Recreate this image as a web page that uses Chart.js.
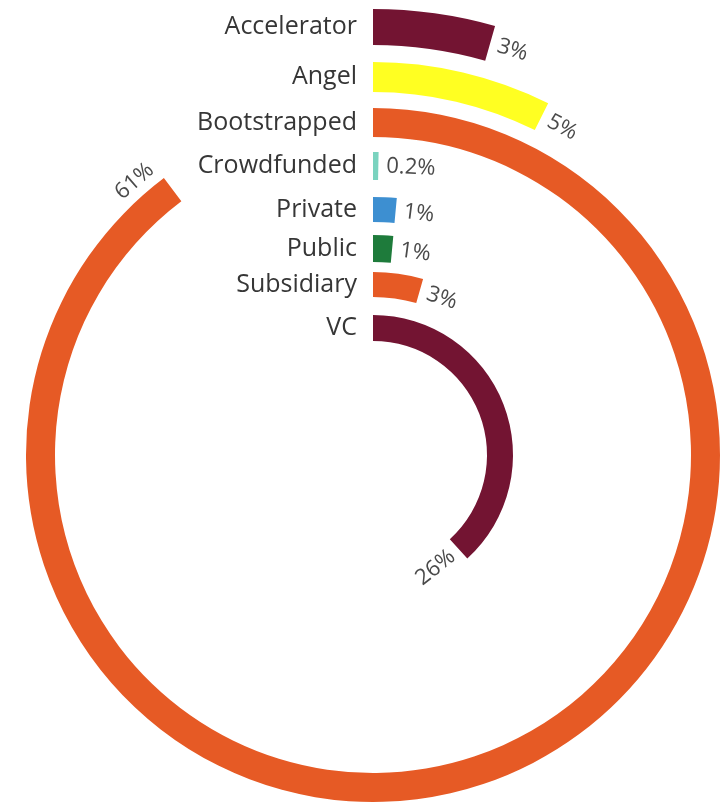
<!DOCTYPE html>
<html>
<head>
<meta charset="utf-8">
<script src="https://cdn.jsdelivr.net/npm/chart.js@4.4.1/dist/chart.umd.min.js"></script>
<style>
  html, body { margin: 0; padding: 0; background: #fff; overflow: hidden; }
  #wrap { width: 728px; height: 803px; position: relative; }
</style>
</head>
<body>
<div id="wrap"><canvas id="chart"></canvas></div>
<script>
const categories = ["Accelerator", "Angel", "Bootstrapped", "Crowdfunded", "Private", "Public", "Subsidiary", "VC"];
const shares = [3, 5, 61, 0.2, 1, 1, 3, 26];

// look
const colors = ["#731432", "#ffff22", "#e65a25", "#7ad3bf", "#3d8fd1", "#1e7b3b", "#e65a25", "#731432"];
const ringWidth = [36, 30, 29, 28, 25, 27, 25, 26];
const gapWidth = [17, 16, 15, 17, 13, 10, 18];
const fullCircle = 68; // share shown by one full turn of a ring

// one dataset per ring, thin empty datasets keep the rings apart
const datasets = [];
categories.forEach((name, i) => {
  datasets.push({
    label: name,
    ringIndex: i,
    data: [shares[i], fullCircle - shares[i]],
    backgroundColor: [colors[i], "rgba(0,0,0,0)"],
    weight: ringWidth[i],
    borderWidth: 0
  });
  if (i < gapWidth.length) {
    datasets.push({ label: "", data: [], weight: gapWidth[i], borderWidth: 0 });
  }
});

const ringLabels = {
  id: "ringLabels",
  afterDatasetsDraw(chart) {
    const ctx = chart.ctx;
    ctx.save();
    chart.data.datasets.forEach((ds, di) => {
      if (ds.ringIndex === undefined) return;
      const arc = chart.getDatasetMeta(di).data[0];
      const { x, y, endAngle, innerRadius, outerRadius } =
        arc.getProps(["x", "y", "endAngle", "innerRadius", "outerRadius"], true);
      const r = (innerRadius + outerRadius) / 2;

      // name left of the ring start
      ctx.font = "25px 'Open Sans'";
      ctx.fillStyle = "#363636";
      ctx.textAlign = "right";
      ctx.textBaseline = "middle";
      ctx.fillText(ds.label, x - 16, y - r);

      // share just past the ring end, along the ring
      // (outside the ring when the end runs into the name column)
      const turn = (endAngle + Math.PI / 2) / (2 * Math.PI);
      let a = endAngle + 8 / r;
      let lr = r;
      let align = "left";
      if (turn > 0.85) {
        a = endAngle - 0.07;
        lr = outerRadius + 16;
        align = "center";
      }
      const px = x + lr * Math.cos(a);
      const py = y + lr * Math.sin(a);
      let rot = a + Math.PI / 2;
      while (rot > Math.PI) rot -= 2 * Math.PI;
      if (Math.abs(rot) > Math.PI / 2) {
        rot += rot > 0 ? -Math.PI : Math.PI;
        if (align === "left") align = "right";
      }
      ctx.save();
      ctx.translate(px, py);
      ctx.rotate(rot);
      ctx.font = "22px 'Open Sans'";
      ctx.fillStyle = "#4a4a4a";
      ctx.textAlign = align;
      ctx.textBaseline = "middle";
      ctx.fillText(shares[ds.ringIndex] + "%", 0, 0);
      ctx.restore();
    });
    ctx.restore();
  }
};

new Chart(document.getElementById("chart"), {
  type: "doughnut",
  data: { labels: ["share", "rest"], datasets },
  options: {
    responsive: true,
    maintainAspectRatio: false,
    animation: false,
    events: [],
    radius: 446,
    cutout: (114 / 446 * 100).toFixed(2) + "%",
    layout: { padding: { left: 18, top: 107, right: 0, bottom: 0 } },
    plugins: { legend: { display: false }, tooltip: { enabled: false } }
  },
  plugins: [ringLabels]
});
</script>
</body>
</html>
